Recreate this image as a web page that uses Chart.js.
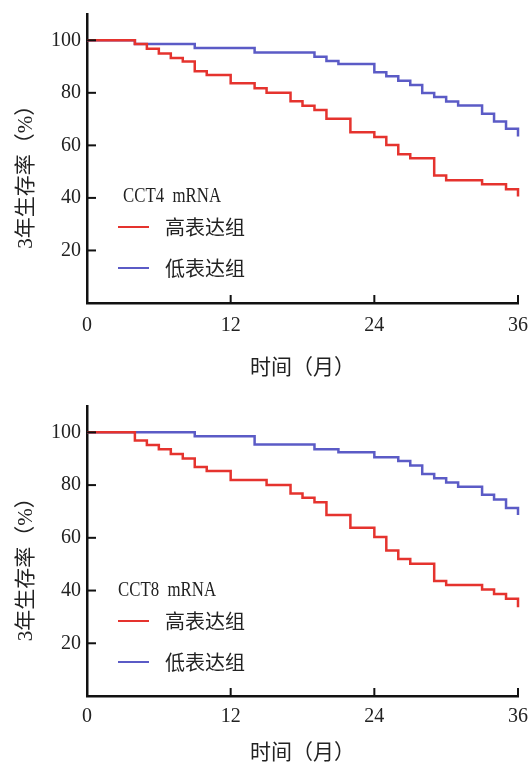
<!DOCTYPE html>
<html>
<head>
<meta charset="utf-8">
<script src="https://cdn.jsdelivr.net/npm/chart.js@4.4.1/dist/chart.umd.min.js"></script>
<style>
  body { margin:0; background:#fff; width:529px; height:762px; overflow:hidden; position:relative; }
  .panel { position:absolute; left:0; width:529px; }
  .panel canvas { position:absolute; left:0; top:0; }
  .head { position:absolute; font:20px/22px 'Liberation Serif', serif; color:#222; white-space:nowrap; word-spacing:5px; transform:scaleX(0.84); transform-origin:left center; }
  .lbl { position:absolute; font:20px/24px 'Noto Sans CJK SC', sans-serif; color:#222; white-space:nowrap; }
  .sw { position:absolute; width:31px; height:2px; }
</style>
</head>
<body>

<div class="panel" id="p1" style="top:0;height:390px">
  <canvas id="c1" width="529" height="390"></canvas>
  <div class="head" style="left:123px;top:184px">CCT4 mRNA</div>
  <div class="sw" style="left:118px;top:226px;background:#e5332e"></div>
  <div class="lbl" style="left:165px;top:215px">高表达组</div>
  <div class="sw" style="left:118px;top:267px;background:#5b5bc6"></div>
  <div class="lbl" style="left:165px;top:256px">低表达组</div>
</div>

<div class="panel" id="p2" style="top:390px;height:372px">
  <canvas id="c2" width="529" height="372"></canvas>
  <div class="head" style="left:118px;top:188px">CCT8 mRNA</div>
  <div class="sw" style="left:118px;top:230px;background:#e5332e"></div>
  <div class="lbl" style="left:165px;top:219px">高表达组</div>
  <div class="sw" style="left:118px;top:271px;background:#5b5bc6"></div>
  <div class="lbl" style="left:165px;top:260px">低表达组</div>
</div>

<script>
/* ================= DATA ================= */
const xTicks = [0, 12, 24, 36];
const yTicks = [20, 40, 60, 80, 100];
const xTitle = "时间（月）";
const yTitle = "3年生存率（%）";

// CCT4 - high expression (red)
const cct4HighMonths = [0,4,5,6,7,8,9,10,12,14,15,17,18,19,20,22,24,25,26,27,29,30,33,35,36];
const cct4High = [100,98.6,96.8,95,93.3,91.9,88.2,86.8,83.6,81.7,80,76.8,75.1,73.5,70.1,65,63.2,60.1,56.6,55.1,48.5,46.7,45.2,43.3,40.5];
// CCT4 - low expression (blue)
const cct4LowMonths = [0,4,9,14,19,20,21,24,25,26,27,28,29,30,31,33,34,35,36];
const cct4Low = [100,98.6,97.1,95.3,93.7,92.1,91.0,87.8,86.3,84.6,83.0,79.9,78.4,76.7,75.2,72.0,69.1,66.3,63.4];

// CCT8 - high expression (red)
const cct8HighMonths = [0,4,5,6,7,8,9,10,12,15,17,18,19,20,22,24,25,26,27,29,30,33,34,35,36];
const cct8High = [100,96.9,95.2,93.6,91.8,90.1,86.9,85.3,81.9,80.0,76.8,75.2,73.5,68.7,63.8,60.3,55.2,52.0,50.2,43.6,42.1,40.4,38.7,36.9,33.7];
// CCT8 - low expression (blue)
const cct8LowMonths = [0,9,14,19,21,24,26,27,28,29,30,31,33,34,35,36];
const cct8Low = [100,98.5,95.4,93.6,92.5,90.6,89.1,87.4,84.2,82.6,81.0,79.4,76.3,74.5,71.3,68.7];

const RED = "#e5332e";
const BLUE = "#5b5bc6";

/* ================= AXES PLUGIN (inward ticks + titles) ================= */
const kmAxes = {
  id: 'kmAxes',
  afterDraw(chart, args, o) {
    const { ctx, chartArea: a, scales: { x, y } } = chart;
    ctx.save();
    ctx.strokeStyle = '#111';
    ctx.lineWidth = 2;
    xTicks.slice(1).forEach(v => {
      const px = x.getPixelForValue(v);
      ctx.beginPath(); ctx.moveTo(px, a.bottom); ctx.lineTo(px, a.bottom - 8); ctx.stroke();
    });
    yTicks.forEach(v => {
      const py = y.getPixelForValue(v);
      ctx.beginPath(); ctx.moveTo(a.left, py); ctx.lineTo(a.left + 9, py); ctx.stroke();
    });

    ctx.fillStyle = '#222';
    ctx.textAlign = 'center';
    ctx.textBaseline = 'middle';
    ctx.font = "21px 'Noto Sans CJK SC', sans-serif";
    ctx.fillText(xTitle, (a.left + a.right) / 2, a.bottom + o.xTitleGap);

    ctx.font = "21px 'Liberation Serif', 'Noto Sans CJK SC', serif";
    ctx.translate(26, (y.getPixelForValue(0) + y.getPixelForValue(100)) / 2);
    ctx.rotate(-Math.PI / 2);
    ctx.fillText(yTitle, 0, 0);
    ctx.restore();
  }
};

function pts(months, vals) {
  return months.map((m, i) => ({ x: m, y: vals[i] }));
}

function makeChart(id, high, low, lay) {
  const ctx = document.getElementById(id).getContext('2d');
  const tickFont = { family: "'Liberation Serif', serif", size: 20 };
  return new Chart(ctx, {
    type: 'line',
    data: {
      datasets: [
        { label: '高表达组', data: high, borderColor: RED, borderWidth: 2.5,
          stepped: 'before', pointRadius: 0, fill: false, clip: false },
        { label: '低表达组', data: low, borderColor: BLUE, borderWidth: 2.5,
          stepped: 'before', pointRadius: 0, fill: false, clip: false }
      ]
    },
    options: {
      responsive: false,
      animation: false,
      layout: { padding: { top: lay.padTop, right: 11, left: 0, bottom: 0 } },
      plugins: {
        legend: { display: false },
        tooltip: { enabled: false },
        kmAxes: { xTitleGap: lay.xTitleGap }
      },
      scales: {
        x: {
          type: 'linear', min: 0, max: 36,
          afterBuildTicks: s => { s.ticks = xTicks.map(v => ({ value: v })); },
          afterFit: s => { s.height = lay.xHeight; s.paddingLeft = 0; s.paddingRight = 0; },
          grid: { display: false, drawTicks: false },
          border: { display: true, color: '#111', width: 2.5 },
          ticks: { color: '#222', font: tickFont, padding: lay.xPad, maxRotation: 0 }
        },
        y: {
          type: 'linear', min: 0, max: 110,
          afterBuildTicks: s => { s.ticks = yTicks.map(v => ({ value: v })); },
          afterFit: s => { s.width = 87; s.paddingTop = 0; s.paddingBottom = 0; },
          grid: { display: false, drawTicks: false },
          border: { display: true, color: '#111', width: 2.5 },
          ticks: { color: '#222', font: tickFont, padding: 6 }
        }
      }
    },
    plugins: [kmAxes]
  });
}

makeChart('c1', pts(cct4HighMonths, cct4High), pts(cct4LowMonths, cct4Low),
  { padTop: 14, xHeight: 87, xPad: 11, xTitleGap: 63 });
makeChart('c2', pts(cct8HighMonths, cct8High), pts(cct8LowMonths, cct8Low),
  { padTop: 16, xHeight: 66, xPad: 9, xTitleGap: 55 });
</script>
</body>
</html>
